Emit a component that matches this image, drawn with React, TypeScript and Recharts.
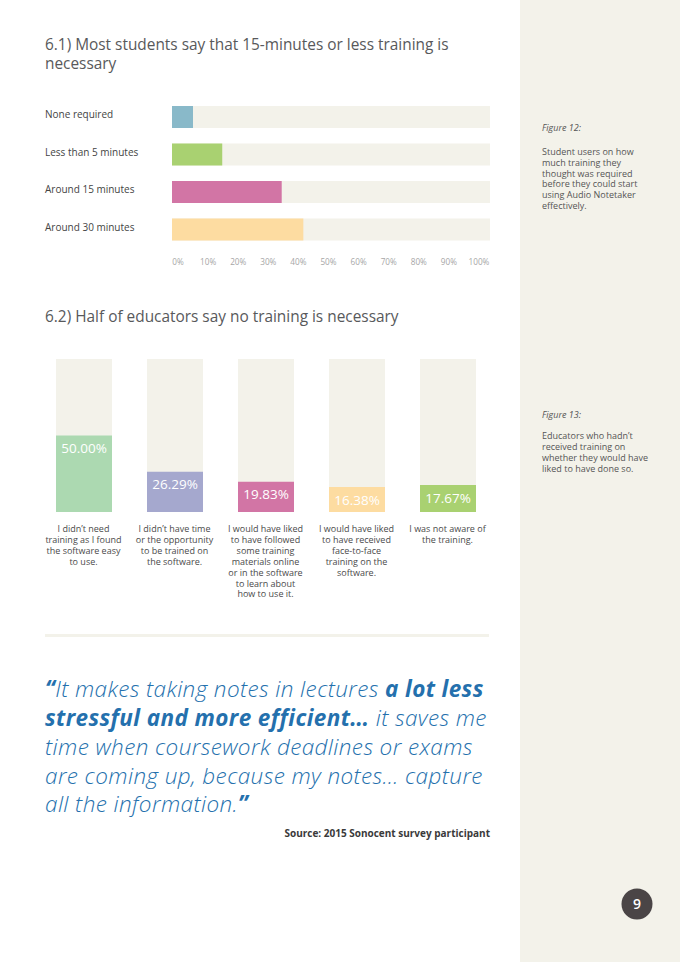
import React from "react";
import { BarChart, Bar, XAxis, YAxis, Cell, LabelList } from "recharts";

// 6.1 – student users: how much training was needed
const trainingOptions = [
  "None required",
  "Less than 5 minutes",
  "Around 15 minutes",
  "Around 30 minutes",
];
const studentShares = [6.6, 15.8, 34.5, 41.3];
const studentColors = ["#89b9c9", "#a9d171", "#d275a5", "#fddca1"];
const percentTicks = [0, 10, 20, 30, 40, 50, 60, 70, 80, 90, 100];

// 6.2 – educators who hadn't received training
const educatorReasons = [
  "I didn’t need\ntraining as I found\nthe software easy\nto use.",
  "I didn’t have time\nor the opportunity\nto be trained on\nthe software.",
  "I would have liked\nto have followed\nsome training\nmaterials online\nor in the software\nto learn about\nhow to use it.",
  "I would have liked\nto have received\nface-to-face\ntraining on the\nsoftware.",
  "I was not aware of\nthe training.",
];
const educatorShares = [50.0, 26.29, 19.83, 16.38, 17.67];
const educatorColors = ["#acd9b1", "#a5a8ce", "#d275a5", "#fddca1", "#a9d171"];

const FONT = '"Open Sans", "Noto Sans", sans-serif';
const TRACK = "#f3f2ea";

const studentData = trainingOptions.map((name, i) => ({
  name,
  value: studentShares[i],
}));
const educatorData = educatorReasons.map((reason, i) => ({
  reason,
  value: educatorShares[i],
}));

function OptionTick(props: any) {
  const { y, payload } = props;
  return (
    <text x={45} y={y} dy={1.5} fontSize={10} fill="#444" fontFamily={FONT} textAnchor="start">
      {payload.value}
    </text>
  );
}

function PercentTick(props: any) {
  const { x, y, payload } = props;
  return (
    <text x={x} y={y} dy={17} fontSize={8.2} fill="#a6a6a6" fontFamily={FONT} textAnchor="middle">
      {`${payload.value}%`}
    </text>
  );
}

function ReasonTick(props: any) {
  const { x, y, payload } = props;
  const lines = String(payload.value).split("\n");
  return (
    <text x={x} y={y} fontSize={9} fill="#4a4a4a" fontFamily={FONT} textAnchor="middle">
      {lines.map((line, i) => (
        <tspan key={i} x={x} dy={i === 0 ? 20 : 10.9}>
          {line}
        </tspan>
      ))}
    </text>
  );
}

function StudentChart() {
  return (
    <BarChart
      width={520}
      height={176}
      data={studentData}
      layout="vertical"
      margin={{ top: 4, right: 30, bottom: 0, left: 0 }}
    >
      {/* scale axis: ticks are inset slightly from the bar track ends */}
      <XAxis
        xAxisId="t"
        type="number"
        domain={[0, 100]}
        allowDataOverflow
        ticks={percentTicks}
        padding={{ left: 6, right: 11 }}
        axisLine={false}
        tickLine={false}
        tickSize={0}
        tickMargin={0}
        height={22}
        tick={<PercentTick />}
        interval={0}
      />
      <XAxis xAxisId="v" type="number" domain={[0, 100]} allowDataOverflow hide height={0} />
      <YAxis
        type="category"
        dataKey="name"
        width={172}
        axisLine={false}
        tickLine={false}
        tick={<OptionTick />}
        interval={0}
      />
      <Bar
        xAxisId="v"
        dataKey="value"
        barSize={22}
        background={{ fill: TRACK }}
        isAnimationActive={false}
      >
        {studentData.map((_, i) => (
          <Cell key={i} fill={studentColors[i]} />
        ))}
      </Bar>
    </BarChart>
  );
}

function EducatorChart() {
  return (
    <BarChart
      width={520}
      height={262}
      data={educatorData}
      margin={{ top: 9, right: 27, bottom: 0, left: 38 }}
    >
      <XAxis
        dataKey="reason"
        axisLine={false}
        tickLine={false}
        tickSize={0}
        tickMargin={0}
        height={100}
        interval={0}
        tick={<ReasonTick />}
      />
      <YAxis type="number" domain={[0, 100]} hide />
      <Bar dataKey="value" barSize={56} background={{ fill: TRACK }} isAnimationActive={false}>
        {educatorData.map((_, i) => (
          <Cell key={i} fill={educatorColors[i]} />
        ))}
        <LabelList
          dataKey="value"
          position="insideTop"
          offset={8}
          fill="#ffffff"
          fontSize={13.5}
          fontFamily={FONT}
          formatter={(v: any) => `${Number(v).toFixed(2)}%`}
        />
      </Bar>
    </BarChart>
  );
}

const QUOTE_BLUE = "#2470ad";

export default function App() {
  return (
    <div
      style={{
        position: "absolute",
        left: 0,
        top: 0,
        width: 680,
        height: 962,
        background: "#ffffff",
        overflow: "hidden",
        fontFamily: FONT,
      }}
    >
      <svg width={680} height={962} style={{ position: "absolute", left: 0, top: 0 }}>
        <rect x={520} y={0} width={160} height={962} fill={TRACK} />

        <g fontFamily={FONT} fontSize={15.4} fill="#58595b">
          <text x={45} y={50}>6.1) Most students say that 15-minutes or less training is</text>
          <text x={45} y={69}>necessary</text>
          <text x={45} y={322}>6.2) Half of educators say no training is necessary</text>
        </g>

        <g fontFamily={FONT} fontSize={9} fill="#555">
          <text x={542} y={131} fontStyle="italic">Figure 12:</text>
          {[
            "Student users on how",
            "much training they",
            "thought was required",
            "before they could start",
            "using Audio Notetaker",
            "effectively.",
          ].map((l, i) => (
            <text key={i} x={542} y={155 + i * 10.8}>
              {l}
            </text>
          ))}
          <text x={542} y={418} fontStyle="italic">Figure 13:</text>
          {[
            "Educators who hadn’t",
            "received training on",
            "whether they would have",
            "liked to have done so.",
          ].map((l, i) => (
            <text key={i} x={542} y={439 + i * 10.9}>
              {l}
            </text>
          ))}
        </g>

        <rect x={45} y={634} width={444} height={3} fill={TRACK} />

        <g
          fontFamily={FONT}
          fontSize={22.5}
          fontStyle="italic"
          fill={QUOTE_BLUE}
          fontWeight={300}
          letterSpacing={0.4}
        >
          <text x={45} y={697}>
            <tspan fontWeight={700}>“</tspan>
            <tspan>It makes taking notes in lectures </tspan>
            <tspan fontWeight={700}>a lot less</tspan>
          </text>
          <text x={45} y={726}>
            <tspan fontWeight={700}>stressful and more efficient…</tspan>
            <tspan> it saves me</tspan>
          </text>
          <text x={45} y={755}>time when coursework deadlines or exams</text>
          <text x={45} y={783.5}>are coming up, because my notes… capture</text>
          <text x={45} y={812}>
            <tspan>all the information.</tspan>
            <tspan fontWeight={700}>”</tspan>
          </text>
        </g>
        <text x={490} y={837} textAnchor="end" fontSize={10} fontWeight={700} fill="#3a3a3a" fontFamily={FONT}>
          Source: 2015 Sonocent survey participant
        </text>

        <circle cx={637} cy={904} r={15.5} fill="#4a4546" />
        <text x={637} y={909} textAnchor="middle" fontSize={14} fontWeight={600} fill="#ffffff" fontFamily={FONT}>
          9
        </text>
      </svg>

      <div style={{ position: "absolute", left: 0, top: 94 }}>
        <StudentChart />
      </div>
      <div style={{ position: "absolute", left: 0, top: 350 }}>
        <EducatorChart />
      </div>
    </div>
  );
}
